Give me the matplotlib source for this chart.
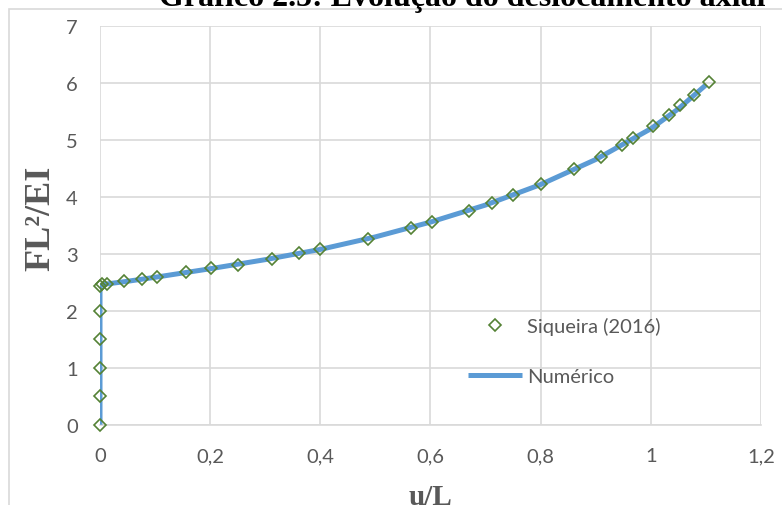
import matplotlib.pyplot as plt
import matplotlib.patches as mpatches
from matplotlib.ticker import FuncFormatter

# Siqueira (2016) reference points
siq_u = [0, 0, 0, 0, 0, 0, 0.004, 0.013, 0.044, 0.077, 0.103, 0.156, 0.201,
         0.25, 0.312, 0.361, 0.4, 0.487, 0.565, 0.603, 0.669, 0.711, 0.75,
         0.801, 0.861, 0.909, 0.947, 0.967, 1.004, 1.033, 1.053, 1.079, 1.105]
siq_f = [0, 0.5, 1, 1.5, 2, 2.44, 2.47, 2.48, 2.52, 2.56, 2.60, 2.68, 2.75,
         2.81, 2.92, 3.02, 3.09, 3.27, 3.46, 3.57, 3.76, 3.90, 4.03,
         4.23, 4.49, 4.71, 4.91, 5.04, 5.24, 5.44, 5.61, 5.80, 6.03]

# numerical solution
num_u = [0, 0, 0.01, 0.05, 0.1, 0.2, 0.3, 0.4, 0.5, 0.6, 0.7, 0.8, 0.9,
         1.0, 1.05, 1.1]
num_f = [0, 2.44, 2.47, 2.52, 2.59, 2.74, 2.90, 3.08, 3.30, 3.56, 3.86,
         4.22, 4.66, 5.20, 5.55, 5.97]

W, H = 782, 506
fig = plt.figure(figsize=(W / 100, H / 100), dpi=100)

# chart border (Excel style)
fig.patches.append(mpatches.Rectangle((9 / W, -0.1), 1.2, 1 - 10 / H + 0.1,
                                      transform=fig.transFigure, fill=False,
                                      edgecolor='#d9d9d9', linewidth=1.2))

ax = fig.add_axes([100 / W, (H - 425.7) / H, 661 / W, 398.4 / H])

ax.plot(num_u, num_f, color='#5b9bd5', linewidth=3.6, label='Numérico',
        solid_capstyle='butt', zorder=3)
ax.plot(siq_u, siq_f, linestyle='none', marker='D', markersize=6.3,
        markerfacecolor='none', markeredgecolor='#548235',
        markeredgewidth=1.2, label='Siqueira (2016)', clip_on=False, zorder=4)

ax.set_xlim(0, 1.2)
ax.set_ylim(0, 7)
ax.set_xticks([0, 0.2, 0.4, 0.6, 0.8, 1.0, 1.2])
ax.set_yticks(range(8))


def comma_fmt(v, pos):
    s = f'{v:.1f}'.rstrip('0').rstrip('.')
    return s.replace('.', ',')


ax.xaxis.set_major_formatter(FuncFormatter(comma_fmt))
ax.grid(True, color='#d9d9d9', linewidth=1.2)
ax.set_axisbelow(True)
for side in ['top', 'right', 'left']:
    ax.spines[side].set_visible(False)
ax.spines['bottom'].set_color('#d9d9d9')
ax.spines['bottom'].set_linewidth(1.2)
ax.tick_params(length=0, labelsize=14.5, colors='#595959', pad=0)
ax.tick_params(axis='x', pad=16)
ax.tick_params(axis='y', pad=16)
for lab in ax.get_xticklabels() + ax.get_yticklabels():
    lab.set_fontfamily('Lato')

handles, labels = ax.get_legend_handles_labels()
leg = ax.legend(handles[::-1], labels[::-1], loc='center left',
                bbox_to_anchor=(458 / W, (H - 352) / H),
                bbox_transform=fig.transFigure, frameon=False, borderpad=0,
                handlelength=2.7, handletextpad=0.25, labelspacing=1.65,
                prop={'family': 'Lato', 'size': 14.5})
for t in leg.get_texts():
    t.set_color('#595959')

fig.text(430 / W, (H - 498) / H, 'u/L', ha='center', va='center',
         fontsize=21, fontweight='bold', family='Liberation Serif',
         color='#595959')
fig.text(41 / W, (H - 218) / H, 'FL²/EI', ha='center', va='center',
         rotation=90, fontsize=26, fontweight='bold',
         family='Liberation Serif', color='#595959')
fig.text(462 / W, (H - 6) / H, 'Gráfico 2.5: Evolução do deslocamento axial',
         ha='center', va='baseline', fontsize=23, fontweight='bold',
         family='Liberation Serif', color='black')

fig.savefig('out.png', dpi=100)
